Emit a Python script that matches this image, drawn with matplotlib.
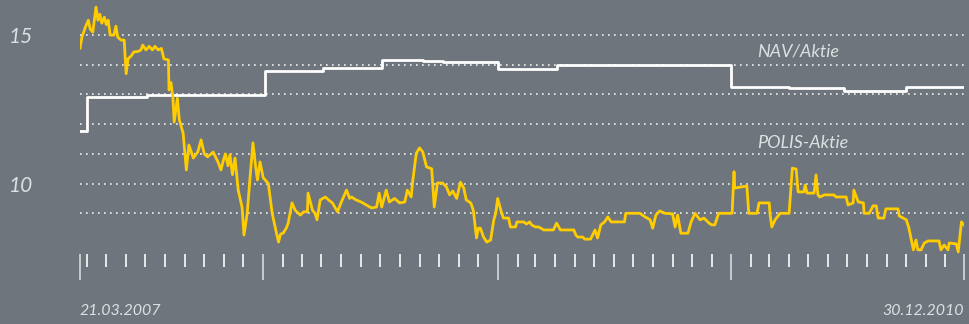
import pandas as pd
import matplotlib
matplotlib.use("Agg")
import matplotlib.pyplot as plt
import matplotlib.dates as mdates

plt.rcParams['font.family'] = ['Lato', 'DejaVu Sans']
plt.rcParams['font.style'] = 'italic'

start = pd.Timestamp("2007-03-21")
end = pd.Timestamp("2010-12-30")

# POLIS-Aktie: days since 21.03.2007 and price
polis_days = [0, 3, 9, 13, 16, 20, 25, 28, 31, 34,
              38, 41, 44, 47, 53, 56, 59, 64, 69, 72,
              75, 80, 84, 91, 95, 98, 103, 108, 113, 117,
              122, 127, 131, 138, 139, 142, 145, 147, 152, 155,
              161, 166, 170, 177, 184, 189, 194, 199, 208, 216,
              220, 224, 227, 231, 234, 238, 242, 247, 253, 256,
              261, 266, 270, 274, 277, 281, 286, 294, 300, 305,
              310, 313, 317, 322, 325, 331, 336, 344, 349, 355,
              356, 363, 367, 370, 375, 383, 388, 394, 402, 408,
              416, 421, 424, 431, 439, 447, 455, 463, 467, 471,
              478, 483, 491, 499, 507, 511, 517, 519, 525, 530,
              535, 541, 549, 553, 558, 566, 572, 577, 582, 588,
              594, 599, 603, 610, 614, 619, 622, 625, 630, 635,
              641, 646, 649, 652, 657, 661, 669, 672, 680, 682,
              693, 697, 702, 705, 711, 716, 724, 739, 744, 750,
              771, 774, 777, 785, 788, 797, 804, 808, 813, 819,
              824, 829, 850, 852, 874, 882, 890, 894, 899, 905,
              913, 925, 929, 933, 938, 949, 954, 960, 968, 974,
              982, 986, 991, 997, 1018, 1021, 1022, 1041, 1044, 1057,
              1060, 1076, 1077, 1080, 1085, 1093, 1107, 1112, 1118, 1121,
              1130, 1132, 1135, 1146, 1149, 1152, 1155, 1162, 1177, 1180,
              1196, 1199, 1207, 1208, 1215, 1223, 1224, 1232, 1238, 1243,
              1246, 1255, 1258, 1277, 1279, 1290, 1294, 1301, 1305, 1308,
              1313, 1318, 1324, 1341, 1344, 1349, 1355, 1357, 1368, 1371,
              1376, 1380]
polis_price = [14.56, 14.93, 15.3, 15.5, 15.2, 15.1, 15.94, 15.5, 15.7, 15.4,
               15.6, 15.35, 15.5, 15.0, 15.0, 15.3, 14.93, 14.83, 14.83, 13.7,
               14.2, 14.3, 14.43, 14.45, 14.5, 14.66, 14.5, 14.62, 14.5, 14.62,
               14.5, 14.55, 14.2, 14.16, 13.15, 13.4, 12.9, 12.07, 12.87, 12.15,
               11.7, 10.46, 11.3, 10.86, 11.07, 11.47, 11.0, 10.9, 11.06, 10.7,
               10.46, 10.8, 11.0, 10.6, 10.97, 10.3, 10.86, 9.78, 9.2, 8.27,
               9.0, 10.35, 11.37, 10.6, 10.12, 10.73, 10.2, 10.0, 9.0, 8.5,
               8.03, 8.3, 8.33, 8.5, 8.67, 9.35, 9.1, 8.94, 9.05, 9.05,
               9.68, 9.1, 9.0, 8.78, 9.45, 9.55, 9.45, 9.35, 9.05, 9.38,
               9.78, 9.5, 9.55, 9.45, 9.38, 9.28, 9.18, 9.21, 9.68, 9.21,
               9.78, 9.38, 9.5, 9.35, 9.38, 9.78, 9.55, 10.02, 11.02, 11.2,
               11.07, 10.56, 10.5, 9.21, 10.02, 10.02, 9.89, 9.62, 9.75, 9.5,
               10.05, 9.85, 9.45, 9.35, 9.1, 8.17, 8.5, 8.5, 8.2, 8.03,
               8.1, 8.78, 9.0, 9.5, 9.1, 8.84, 8.84, 8.54, 8.54, 8.71,
               8.71, 8.64, 8.71, 8.61, 8.54, 8.54, 8.44, 8.44, 8.67, 8.44,
               8.44, 8.27, 8.2, 8.2, 8.13, 8.13, 8.44, 8.17, 8.61, 8.71,
               8.88, 8.71, 8.71, 9.0, 9.0, 8.88, 8.78, 8.5, 8.94, 9.08,
               9.0, 8.98, 8.54, 8.94, 8.33, 8.33, 8.71, 9.0, 8.78, 8.84,
               8.67, 8.61, 8.61, 9.0, 9.0, 10.4, 9.85, 9.92, 9.0, 9.0,
               9.35, 9.35, 9.0, 8.54, 8.78, 9.0, 9.0, 10.52, 10.49, 9.72,
               9.72, 9.95, 9.68, 9.68, 10.29, 9.62, 9.55, 9.62, 9.62, 9.55,
               9.55, 9.28, 9.35, 9.78, 9.38, 9.35, 9.0, 9.0, 9.25, 9.25,
               8.84, 8.84, 9.15, 9.15, 8.91, 8.78, 8.5, 7.77, 8.1, 7.77,
               7.77, 8.0, 8.07, 8.07, 7.77, 7.93, 7.77, 8.0, 7.97, 7.7,
               8.71, 8.61]

# NAV per share (step line)
nav_days = [0, 11, 105, 289, 380, 472, 535, 566, 653, 744, 1016, 1107, 1193, 1290, 1380]
nav_value = [11.77, 12.92, 12.98, 13.78, 13.9, 14.15, 14.14, 14.09, 13.86, 13.98,
             13.26, 13.22, 13.13, 13.24, 13.24]

bg = "#6e757c"
yellow = "#ffcc00"
txt = "#dde0e2"

polis_dates = start + pd.to_timedelta(polis_days, unit="D")
nav_dates = start + pd.to_timedelta(nav_days, unit="D")

fig = plt.figure(figsize=(9.69, 3.24), dpi=100, facecolor=bg)
ax = fig.add_axes([80 / 969, 70 / 324, 884 / 969, 254 / 324])
ax.set_facecolor(bg)

ax.plot(nav_dates, nav_value, color="white", lw=2.0, drawstyle="steps-post")
ax.plot(polis_dates, polis_price, color=yellow, lw=2.0)

ax.set_xlim(start, end)
ax.set_ylim(7.63, 16.18)

for s in ax.spines.values():
    s.set_visible(False)

# y: labels at 10 and 15, dotted grid every 1
ax.set_yticks([10, 15])
ax.set_yticklabels(["10", "15"])
ax.set_yticks(range(9, 16), minor=True)
ax.tick_params(axis="y", which="both", length=0, pad=34, labelsize=15, labelcolor=txt)
ax.grid(axis="y", which="both", color="#f0f0f0", linestyle=(0, (1, 2.6)), linewidth=1.2)
ax.grid(axis="x", which="both", visible=False)

# x: long ticks at start, year starts and end, short ticks each month
major = [start, pd.Timestamp("2008-01-01"), pd.Timestamp("2009-01-01"),
         pd.Timestamp("2010-01-01"), end]
ax.set_xticks(major)
ax.set_xticklabels([""] * len(major))
ax.xaxis.set_minor_locator(mdates.MonthLocator())
ax.tick_params(axis="x", which="major", direction="out", length=18.7, width=1.4, color="#c9cccf")
ax.tick_params(axis="x", which="minor", direction="out", length=9.4, width=1.4, color="#e8e9ea")

xt = ax.get_xaxis_transform()
ax.text(start, -0.224, "21.03.2007", transform=xt, ha="left", va="center",
        fontsize=11.5, color=txt)
ax.text(end, -0.224, "30.12.2010", transform=xt, ha="right", va="center",
        fontsize=11.5, color=txt)

ax.text(0.766, 0.798, "NAV/Aktie", transform=ax.transAxes, ha="left", va="center",
        fontsize=13, color=txt)
ax.text(0.766, 0.436, "POLIS-Aktie", transform=ax.transAxes, ha="left", va="center",
        fontsize=13, color=txt)

fig.savefig("out.png", dpi=100, facecolor=bg)
